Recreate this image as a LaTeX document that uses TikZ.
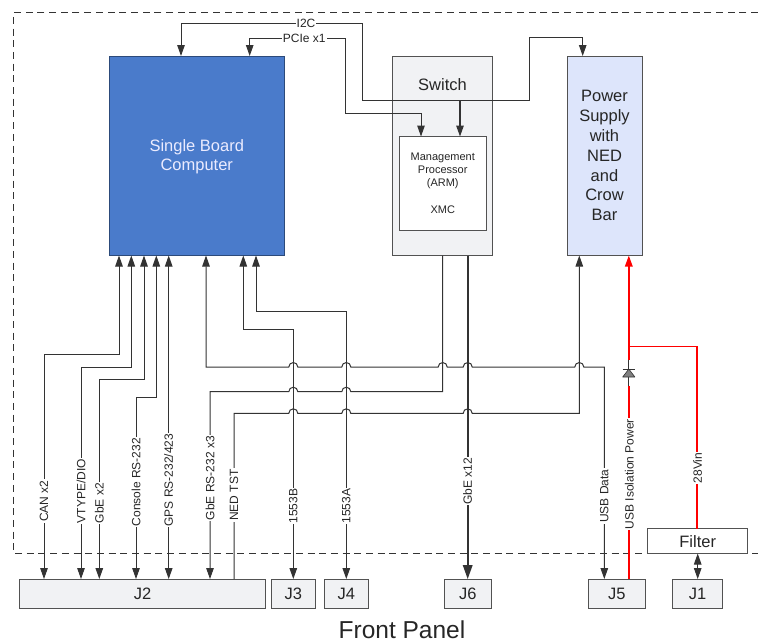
\documentclass[tikz,border=0pt]{standalone}
\usepackage{fontspec}
\setmainfont{Liberation Sans}
\usetikzlibrary{arrows.meta}
\definecolor{sbcblue}{HTML}{4A7BCB}
\definecolor{swgray}{HTML}{F1F2F4}
\definecolor{psblue}{HTML}{DDE5FB}
\definecolor{wire}{HTML}{333333}
\tikzset{box/.style = {draw=wire!85,line width=1pt,inner sep=0pt,outer sep=0pt,text=black!85,align=center},
         conn/.style = {box,fill=swgray,font=\fontsize{16.5}{19.8}\selectfont,minimum height=29.5pt},
         sig/.style = {wire,line width=1pt},
         pwr/.style = {red,line width=1.6pt},
         tag/.style = {fill=white,inner sep=1pt,text=black!85,font=\fontsize{12}{14}\selectfont},
         vtag/.style = {tag,rotate=90}}
\newcommand{\hop}[2]{-- (#1-4.5,#2) arc[start angle=180,end angle=0,radius=4.5pt]}

\begin{document}
\begin{tikzpicture}[x=1pt,y=-1pt,>={Triangle[length=11pt,width=7.5pt]}]
    \useasboundingbox (0,0) rectangle (758,643);
    % frame
    \draw[wire,line width=0.8pt,dash pattern=on 7pt off 4.7pt] (758,12.5) -- (13.5,12.5) -- (13.5,553.5) -- (758,553.5);

    % blocks
    \node[box,draw=sbcblue!60!black,fill=sbcblue,minimum width=174.5pt,minimum height=199.5pt] (sbc) at (196.75,155.75) {};
    \node[text=white!92!blue,align=center,font=\fontsize{16.5}{19.8}\selectfont] (sbclabel) at (196.75,156.8) {Single Board\\Computer};
    \node[box,fill=swgray,minimum width=99.8pt,minimum height=199.5pt] (sw) at (442.6,155.75) {};
    \node[box,fill=white,minimum width=87.5pt,minimum height=93.5pt,font=\fontsize{11}{13.3}\selectfont] (xmc) at (442.75,183.25) {Management\\Processor\\(ARM)\\ \\XMC};
    \node[text=black!85,font=\fontsize{16.5}{19.8}\selectfont] (swlabel) at (442.5,85) {Switch};
    \node[box,fill=psblue,minimum width=75pt,minimum height=199.5pt,font=\fontsize{16.5}{19.8}\selectfont] (ps) at (604.5,155.75) {Power\\Supply\\with\\NED\\and\\Crow\\Bar};
    \node[box,fill=white,minimum width=100pt,minimum height=24.8pt,font=\fontsize{16.5}{19.8}\selectfont] (filter) at (697.7,541.1) {Filter};

    \node[conn,minimum width=246.4pt] (j2) at (142.5,593.8) {J2};
    \node[conn,minimum width=43.5pt] (j3) at (293.25,593.8) {J3};
    \node[conn,minimum width=43.8pt] (j4) at (346.4,593.8) {J4};
    \node[conn,minimum width=47pt] (j6) at (467.8,593.8) {J6};
    \node[conn,minimum width=56.3pt] (j5) at (616.85,593.8) {J5};
    \node[conn,minimum width=50pt] (j1) at (697.7,593.8) {J1};
    \node[text=black!85,inner sep=0pt,font=\fontsize{24.5}{26}\selectfont] (front) at (402,629.5) {Front Panel};

    % top buses
    \draw[sig,->] (362.3,100.7) -- (362.3,23.3) -- (181,23.3) -- (181,0 |- sbc.north);
    \draw[sig,->] (362.3,100.7) -- (529.7,100.7) -- (529.7,37.5) -- (582.7,37.5) -- (582.7,0 |- ps.north);
    \draw[sig,line width=1.3pt,->] (460,100.7) -- (460,0 |- xmc.north);
    \draw[sig,->] (345,38) -- (249.7,38) -- (249.7,0 |- sbc.north);
    \draw[sig,->] (345,38) -- (345,113) -- (421,113) -- (421,0 |- xmc.north);

    % SBC to J2
    \draw[sig,<->] (119,0 |- sbc.south) |- (44,354.3) -- (44,0 |- j2.north);
    \draw[sig,<->] (131.3,0 |- sbc.south) |- (81,367) -- (81,0 |- j2.north);
    \draw[sig,<->] (144,0 |- sbc.south) |- (99.3,379.3) -- (99.3,0 |- j2.north);
    \draw[sig,<->] (156.3,0 |- sbc.south) |- (136,397) -- (136,0 |- j2.north);
    \draw[sig,<->] (168.7,0 |- sbc.south) -- (168.7,0 |- j2.north);

    % 1553
    \draw[sig,<->] (243.3,0 |- sbc.south) |- (293.3,329.7) -- (293.3,0 |- j3.north);
    \draw[sig,<->] (256,0 |- sbc.south) |- (346.3,311) -- (346.3,0 |- j4.north);

    % crossing lines
    \draw[sig,<->] (206,0 |- sbc.south) -- (206,367) \hop{293.3}{367} \hop{346.3}{367} \hop{442.7}{367} \hop{467.7}{367} \hop{579.3}{367} -- (604.3,367) -- (604.3,0 |- j5.north);
    \draw[sig,<-] (210,0 |- j2.north) -- (210,391.7) \hop{293.3}{391.7} \hop{346.3}{391.7} -- (442.7,391.7) -- (442.7,0 |- sw.south);
    \draw[sig,->] (234,0 |- j2.north) -- (234,413.3) \hop{293.3}{413.3} \hop{346.3}{413.3} \hop{467.7}{413.3} -- (579.3,413.3) -- (579.3,0 |- ps.south);
    \draw[sig,line width=1.6pt,-{Triangle[length=14pt,width=9.5pt]}] (467.7,0 |- sw.south) -- (467.7,0 |- j6.north);

    % power
    \coordinate (dioK) at (628.8,360);
    \coordinate (dioA) at (628.8,386);
    \draw[pwr,-{Triangle[length=11pt,width=7.5pt]}] (dioK) -- (628.8,0 |- ps.south);
    \draw[pwr] (628.8,0 |- j5.north) -- (dioA);
    \draw[sig] (dioA) -- (dioK);
    \draw[wire,fill=black!50,line width=0.6pt,line join=round] (622.7,377) -- (634.9,377) -- (628.8,369) -- cycle;
    \draw[wire,line width=1pt] (622.5,369) -- (635.1,369);
    \draw[pwr] (628.8,346.5) -| (696.8,0 |- filter.north);
    \draw[sig,<->] (filter.south) -- (j1.north);

    % labels
    \node[tag] (i2c) at (306,23.3) {I2C};
    \node[tag] (pcie) at (304.3,38) {PCIe x1};
    \node[vtag] (can) at (44,501) {CAN x2};
    \node[vtag] (vtype) at (81,491) {VTYPE/DIO};
    \node[vtag] (gbetwo) at (99.3,503) {GbE x2};
    \node[vtag] (console) at (136,482) {Console RS-232};
    \node[vtag] (gps) at (168.7,480) {GPS RS-232/423};
    \node[vtag] (gbers) at (210,478) {GbE RS-232 x3};
    \node[vtag] (nedtst) at (234,495) {NED TST};
    \node[vtag] (bsb) at (293.3,506) {1553B};
    \node[vtag] (bsa) at (346.3,506) {1553A};
    \node[vtag] (gbex) at (467.7,481) {GbE x12};
    \node[vtag] (usbd) at (604.3,496) {USB Data};
    \node[vtag] (usbp) at (629.3,474) {USB Isolation Power};
    \node[vtag] (vin) at (697.5,468) {28Vin};
\end{tikzpicture}
\end{document}
